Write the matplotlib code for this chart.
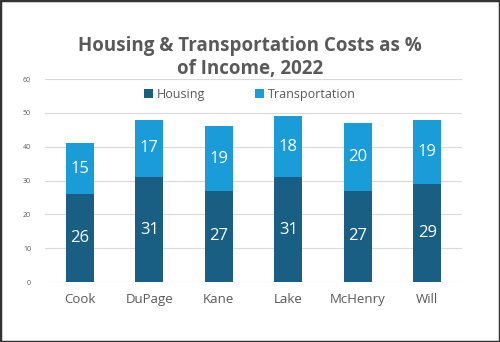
import matplotlib
matplotlib.use("Agg")
import matplotlib.pyplot as plt
from matplotlib.patches import Rectangle
import numpy as np

# ==== Daten ====
counties = ["Cook", "DuPage", "Kane", "Lake", "McHenry", "Will"]
housing = [26, 31, 27, 31, 27, 29]
transportation = [15, 17, 19, 18, 20, 19]

HOUSING_COLOR = "#195e83"
TRANSPORT_COLOR = "#1a9cd8"
TEXT_GRAY = "#595959"

plt.rcParams["font.family"] = ["Open Sans", "DejaVu Sans"]

fig = plt.figure(figsize=(5, 3.42), dpi=100)
ax = fig.add_axes([0.09, 0.175, 0.834, 0.594])

x = np.arange(len(counties))
width = 0.4
b1 = ax.bar(x, housing, width, color=HOUSING_COLOR, label="Housing", zorder=3)
b2 = ax.bar(x, transportation, width, bottom=housing, color=TRANSPORT_COLOR,
            label="Transportation", zorder=3)

# Datenbeschriftungen in den Balken
for bars, vals, base in [(b1, housing, [0] * len(housing)), (b2, transportation, housing)]:
    for rect, v, b in zip(bars, vals, base):
        ax.text(rect.get_x() + rect.get_width() / 2, b + v / 2, str(v),
                ha="center", va="center", color="white", fontsize=12, zorder=4)

ax.set_xlim(-0.5, len(counties) - 0.5)
ax.set_ylim(0, 60)
ax.set_yticks(range(0, 61, 10))
ax.set_xticks(x)
ax.set_xticklabels(counties)
ax.tick_params(axis="y", labelsize=5, colors=TEXT_GRAY, length=0, pad=10)
ax.tick_params(axis="x", labelsize=9.5, colors=TEXT_GRAY, length=0, pad=8)
ax.grid(axis="y", color="#d9d9d9", linewidth=0.8, zorder=0)
for s in ax.spines.values():
    s.set_visible(False)

fig.text(0.5, 0.832, "Housing & Transportation Costs as %\nof Income, 2022",
         ha="center", va="center", fontsize=13.5, fontweight="bold",
         color=TEXT_GRAY, linespacing=1.15)

fig.legend(handles=[b1, b2], labels=["Housing", "Transportation"],
           loc="center", bbox_to_anchor=(0.5, 0.725), ncol=2, frameon=False,
           fontsize=9, handlelength=0.7, handleheight=0.7, handletextpad=0.3,
           columnspacing=4.0, labelcolor=TEXT_GRAY)

# dunkler Rahmen um die Grafik
fig.patches.append(Rectangle((0, 0), 1, 1, transform=fig.transFigure,
                             fill=False, edgecolor="#333333", linewidth=2.5))

plt.savefig("out.png", dpi=100)
plt.close()
